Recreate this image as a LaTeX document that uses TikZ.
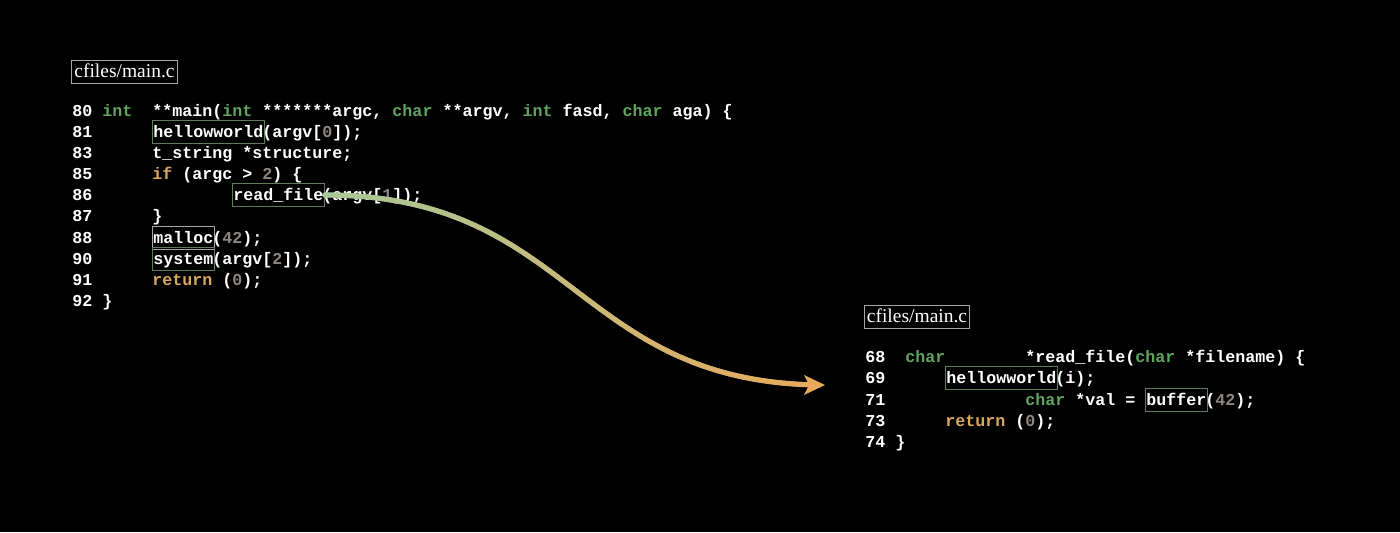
\documentclass[tikz,border=0pt]{standalone}
\usepackage{fontspec}
\setmainfont{Liberation Serif}
\setmonofont{Liberation Mono}
\usetikzlibrary{decorations.markings}
\definecolor{kwgreen}{HTML}{5FA35F}
\definecolor{retorange}{HTML}{D9A75E}
\definecolor{numgrey}{HTML}{8C8783}
\definecolor{boxgreen}{HTML}{5E7F55}
\definecolor{titlegrey}{HTML}{A6A6A6}
\definecolor{arrowgreen}{HTML}{A8C898}
\definecolor{arrowamber}{HTML}{E8A95A}
\newcommand{\kwc}[1]{\textcolor{kwgreen}{#1}}
\newcommand{\retc}[1]{\textcolor{retorange}{#1}}
\newcommand{\numc}[1]{\textcolor{numgrey}{#1}}
\tikzset{
  code/.style={anchor=base west,inner sep=0pt,text=white,font=\fontsize{9.49}{11}\selectfont\ttfamily\bfseries},
  call/.style={code,draw=boxgreen,line width=0.6pt,inner xsep=0.5pt,inner ysep=0.6pt,text height=8.6pt,text depth=2.9pt},
  fname/.style={draw=titlegrey,line width=0.6pt,text=white,font=\fontsize{11.1}{13}\selectfont,inner xsep=1.6pt,inner ysep=1.8pt,text height=8pt,text depth=2pt},
}
\begin{document}
\begin{tikzpicture}[x=0.02cm,y=-0.02cm]
 \fill[black] (0,0) rectangle (1400,532);
 \useasboundingbox (0,0) rectangle (1400,532);

 \node (file_a) at (124.5,72) [fname] {cfiles/main.c};
 \node (n80) at (72,116) [code] {80};
 \node (k80) at (102,116) [code] {\kwc{int}};
 \node (c80) at (152,116) [code] {**main(\kwc{int} *******argc, \kwc{char} **argv, \kwc{int} fasd, \kwc{char} aga) \{};
 \node (n81) at (72,137) [code] {81};
 \node (hw81) at (152,137) [call] {hellowworld};
 \node (c81) at (262,137) [code] {(argv[\numc{0}]);};
 \node (n83) at (72,158) [code] {83};
 \node (c83) at (152,158) [code] {t\_string *structure;};
 \node (n85) at (72,179) [code] {85};
 \node (c85) at (152,179) [code] {\retc{if} (argc > \numc{2}) \{};
 \node (n86) at (72,200) [code] {86};
 \node (rf86) at (232,200) [call] {read\_file};
 \node (c86) at (322,200) [code] {(argv[\numc{1}]);};
 \node (n87) at (72,221) [code] {87};
 \node (c87) at (152,221) [code] {\}};
 \node (n88) at (72,243) [code] {88};
 \node (ml88) at (152,243) [call,draw=titlegrey] {malloc};
 \node (c88) at (212,243) [code] {(\numc{42});};
 \node (n90) at (72,264) [code] {90};
 \node (sy90) at (152,264) [call] {system};
 \node (c90) at (212,264) [code] {(argv[\numc{2}]);};
 \node (n91) at (72,285) [code] {91};
 \node (c91) at (152,285) [code] {\retc{return} (\numc{0});};
 \node (n92) at (72,306) [code] {92};
 \node (c92) at (102,306) [code] {\}};

 \node (file_b) at (917,317) [fname] {cfiles/main.c};
 \node (n68) at (865,362) [code] {68};
 \node (k68) at (905,362) [code] {\kwc{char}};
 \node (c68) at (1025,362) [code] {*read\_file(\kwc{char} *filename) \{};
 \node (n69) at (865,383) [code] {69};
 \node (hw69) at (945,383) [call] {hellowworld};
 \node (c69) at (1055,383) [code] {(i);};
 \node (n71) at (865,405) [code] {71};
 \node (c71) at (1025,405) [code] {\kwc{char} *val =};
 \node (bf71) at (1145,405) [call] {buffer};
 \node (d71) at (1205,405) [code] {(\numc{42});};
 \node (n73) at (865,426) [code] {73};
 \node (c73) at (945,426) [code] {\retc{return} (\numc{0});};
 \node (n74) at (865,447) [code] {74};
 \node (c74) at (895,447) [code] {\}};

 \coordinate (arrow_end) at (825,385);
 \path [decoration={markings,
     mark=between positions 0 and 0.98 step 0.8pt with {
       \pgfmathsetmacro\mixpct{\pgfkeysvalueof{/pgf/decoration/mark info/distance from start}/\pgfdecoratedpathlength*100}
       \fill[arrowamber!\mixpct!arrowgreen] (0,0) circle (1.55pt);}},
   postaction={decorate}] (rf86.east) .. controls +(250,0) and +(-250,0) .. (arrow_end);
 \fill[arrowamber] (arrow_end) -- +(-21,-10) -- +(-16,0) -- +(-21,10) -- cycle;
\end{tikzpicture}
\end{document}
